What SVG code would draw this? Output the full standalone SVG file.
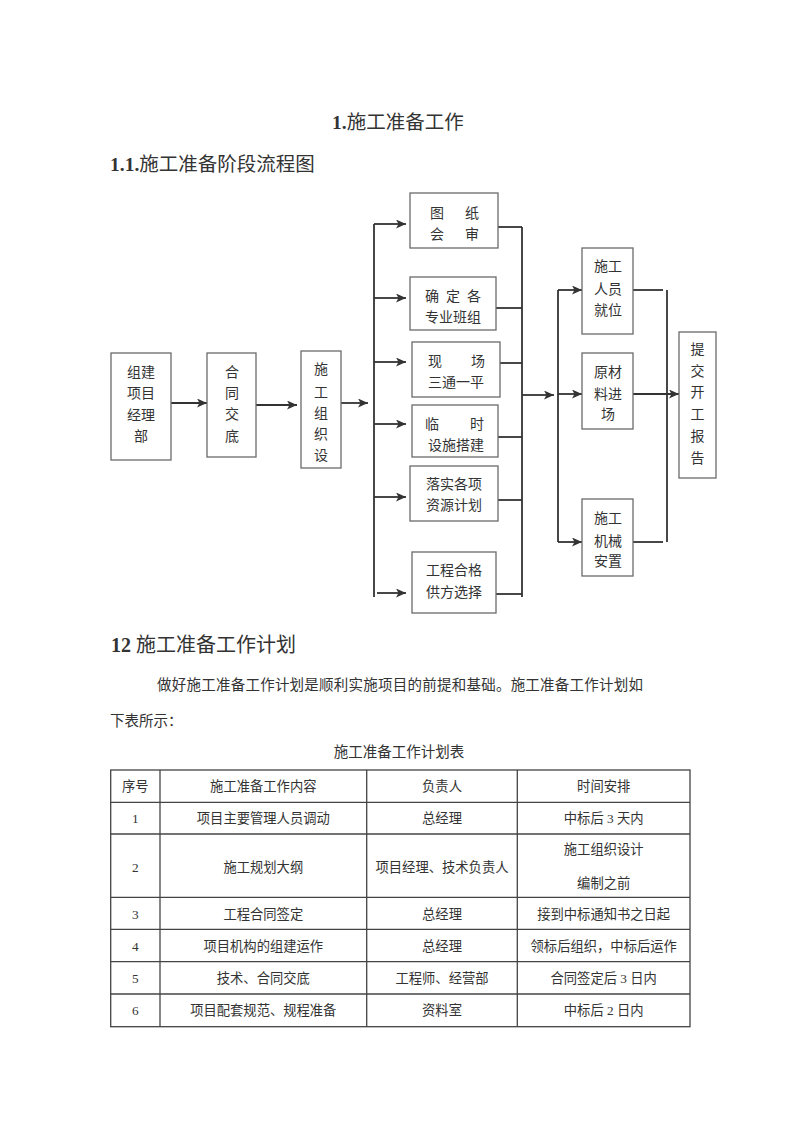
<svg xmlns="http://www.w3.org/2000/svg" width="800" height="1132" viewBox="0 0 800 1132">
<style>
.t{font-family:"Liberation Serif","Noto Sans CJK SC",serif;fill:#333}
.n{font-size:14px;text-anchor:middle}
.box{fill:#fff;stroke:#6a6a6a;stroke-width:1.3}
.c{stroke:#333;stroke-width:1.8;fill:none}
.ca{marker-end:url(#arr)}
.tb{stroke:#444;stroke-width:1.3;fill:none}
.tc{font-size:13.3px;text-anchor:middle}
.b{font-weight:bold}
</style>
<defs>
<marker id="arr" markerUnits="userSpaceOnUse" markerWidth="11" markerHeight="9" refX="10" refY="4.5" orient="auto">
<path d="M0,0 L10,4.5 L0,9 L2.5,4.5 z" fill="#333"/>
</marker>
</defs>
<rect width="800" height="1132" fill="#fff"/>

<g id="headings">
<text class="t" x="332" y="129" font-size="19.5px"><tspan class="b">1.</tspan>施工准备工作</text>
<text class="t" x="110" y="171" font-size="19.5px"><tspan class="b">1.1.</tspan>施工准备阶段流程图</text>
<text class="t" x="111" y="652" font-size="20px"><tspan class="b">12 </tspan>施工准备工作计划</text>
<text class="t" x="157" y="690" font-size="14.5px" textLength="486" lengthAdjust="spacing">做好施工准备工作计划是顺利实施项目的前提和基础。施工准备工作计划如</text>
<text class="t" x="110" y="726" font-size="14.5px">下表所示：</text>
<text class="t" x="399" y="757" font-size="14.5px" text-anchor="middle">施工准备工作计划表</text>
</g>

<g id="connectors">
<line class="c ca" x1="171" y1="403" x2="207" y2="403"/>
<line class="c ca" x1="256" y1="405" x2="297" y2="405"/>
<line class="c ca" x1="341" y1="403" x2="368" y2="403"/>
<line class="c" x1="374" y1="224" x2="374" y2="597"/>
<line class="c ca" x1="374" y1="224" x2="406" y2="224"/>
<line class="c ca" x1="374" y1="298" x2="406" y2="298"/>
<line class="c ca" x1="374" y1="362" x2="406" y2="362"/>
<line class="c ca" x1="374" y1="424" x2="406" y2="424"/>
<line class="c ca" x1="374" y1="497" x2="406" y2="497"/>
<line class="c ca" x1="377" y1="593" x2="406" y2="593"/>
<line class="c" x1="498" y1="227" x2="522" y2="227"/>
<line class="c" x1="496" y1="308" x2="522" y2="308"/>
<line class="c" x1="498" y1="363" x2="522" y2="363"/>
<line class="c" x1="498" y1="437" x2="522" y2="437"/>
<line class="c" x1="498" y1="500" x2="522" y2="500"/>
<line class="c" x1="496" y1="594" x2="522" y2="594"/>
<line class="c" x1="522" y1="227" x2="522" y2="597"/>
<line class="c ca" x1="522" y1="395" x2="554" y2="395"/>
<line class="c" x1="558" y1="290" x2="558" y2="542"/>
<line class="c ca" x1="558" y1="290" x2="582" y2="290"/>
<line class="c ca" x1="558" y1="394" x2="582" y2="394"/>
<line class="c ca" x1="558" y1="542" x2="582" y2="542"/>
<line class="c" x1="631" y1="290" x2="663" y2="290"/>
<line class="c" x1="631" y1="542" x2="663" y2="542"/>
<line class="c" x1="667" y1="290" x2="667" y2="542"/>
<line class="c ca" x1="631" y1="394" x2="679" y2="394"/>
</g>

<g id="n1">
<rect class="box" x="111" y="353" width="60" height="107" stroke="#444" stroke-width="2"/>
<text class="t n" x="141" y="377">组建</text>
<text class="t n" x="141" y="398">项目</text>
<text class="t n" x="141" y="420">经理</text>
<text class="t n" x="141" y="441">部</text>
</g>
<g id="n2">
<rect class="box" x="207" y="353" width="49" height="104"/>
<text class="t n" x="232" y="377">合</text>
<text class="t n" x="232" y="398">同</text>
<text class="t n" x="232" y="419">交</text>
<text class="t n" x="232" y="441">底</text>
</g>
<g id="n3">
<rect class="box" x="301" y="351" width="40" height="117"/>
<text class="t n" x="321" y="374">施</text>
<text class="t n" x="321" y="397">工</text>
<text class="t n" x="321" y="418">组</text>
<text class="t n" x="321" y="439">织</text>
<text class="t n" x="321" y="460">设</text>
</g>
<g id="nA">
<rect class="box" x="410" y="193" width="88" height="55"/>
<text class="t n" x="437 472" y="218">图纸</text>
<text class="t n" x="437 472" y="239">会审</text>
</g>
<g id="nB">
<rect class="box" x="410" y="277" width="86" height="53"/>
<text class="t n" x="432 453 474" y="301">确定各</text>
<text class="t n" x="453" y="322">专业班组</text>
</g>
<g id="nC">
<rect class="box" x="412" y="342" width="88" height="55"/>
<text class="t n" x="435 478" y="366">现场</text>
<text class="t n" x="456" y="387">三通一平</text>
</g>
<g id="nD">
<rect class="box" x="412" y="405" width="86" height="52"/>
<text class="t n" x="432 477" y="429">临时</text>
<text class="t n" x="456" y="450">设施搭建</text>
</g>
<g id="nE">
<rect class="box" x="410" y="466" width="88" height="55"/>
<text class="t n" x="454" y="489">落实各项</text>
<text class="t n" x="454" y="510">资源计划</text>
</g>
<g id="nF">
<rect class="box" x="412" y="552" width="84" height="61"/>
<text class="t n" x="454" y="575">工程合格</text>
<text class="t n" x="454" y="597">供方选择</text>
</g>
<g id="nG">
<rect class="box" x="582" y="248" width="51" height="86"/>
<text class="t n" x="608" y="271">施工</text>
<text class="t n" x="608" y="294">人员</text>
<text class="t n" x="608" y="315">就位</text>
</g>
<g id="nH">
<rect class="box" x="582" y="353" width="51" height="76"/>
<text class="t n" x="608" y="377">原材</text>
<text class="t n" x="608" y="399">料进</text>
<text class="t n" x="608" y="419">场</text>
</g>
<g id="nI">
<rect class="box" x="582" y="499" width="51" height="77"/>
<text class="t n" x="608" y="523">施工</text>
<text class="t n" x="608" y="546">机械</text>
<text class="t n" x="608" y="566">安置</text>
</g>
<g id="nJ">
<rect class="box" x="679" y="332" width="37" height="146"/>
<text class="t n" x="697.5" y="354">提</text>
<text class="t n" x="697.5" y="376">交</text>
<text class="t n" x="697.5" y="397">开</text>
<text class="t n" x="697.5" y="419">工</text>
<text class="t n" x="697.5" y="441">报</text>
<text class="t n" x="697.5" y="463">告</text>
</g>

<g id="table">
<rect class="tb" x="110.7" y="770" width="579.3" height="256.7"/>
<line class="tb" x1="160" y1="770" x2="160" y2="1026.7"/>
<line class="tb" x1="366.7" y1="770" x2="366.7" y2="1026.7"/>
<line class="tb" x1="517.3" y1="770" x2="517.3" y2="1026.7"/>
<line class="tb" x1="110.7" y1="802.3" x2="690" y2="802.3"/>
<line class="tb" x1="110.7" y1="834" x2="690" y2="834"/>
<line class="tb" x1="110.7" y1="897.3" x2="690" y2="897.3"/>
<line class="tb" x1="110.7" y1="929.3" x2="690" y2="929.3"/>
<line class="tb" x1="110.7" y1="961.7" x2="690" y2="961.7"/>
<line class="tb" x1="110.7" y1="994" x2="690" y2="994"/>
<text class="t tc" x="135.3" y="791">序号</text>
<text class="t tc" x="263.3" y="791">施工准备工作内容</text>
<text class="t tc" x="442" y="791">负责人</text>
<text class="t tc" x="603.7" y="791">时间安排</text>
<text class="t tc" x="135.3" y="823">1</text>
<text class="t tc" x="263.3" y="823">项目主要管理人员调动</text>
<text class="t tc" x="442" y="823">总经理</text>
<text class="t tc" x="603.7" y="823">中标后 3 天内</text>
<text class="t tc" x="135.3" y="871.5">2</text>
<text class="t tc" x="263.3" y="871.5">施工规划大纲</text>
<text class="t tc" x="442" y="871.5">项目经理、技术负责人</text>
<text class="t tc" x="603.7" y="854">施工组织设计</text>
<text class="t tc" x="603.7" y="888">编制之前</text>
<text class="t tc" x="135.3" y="919">3</text>
<text class="t tc" x="263.3" y="919">工程合同签定</text>
<text class="t tc" x="442" y="919">总经理</text>
<text class="t tc" x="603.7" y="919">接到中标通知书之日起</text>
<text class="t tc" x="135.3" y="950.5">4</text>
<text class="t tc" x="263.3" y="950.5">项目机构的组建运作</text>
<text class="t tc" x="442" y="950.5">总经理</text>
<text class="t tc" x="603.7" y="950.5">领标后组织，中标后运作</text>
<text class="t tc" x="135.3" y="983">5</text>
<text class="t tc" x="263.3" y="983">技术、合同交底</text>
<text class="t tc" x="442" y="983">工程师、经营部</text>
<text class="t tc" x="603.7" y="983">合同签定后 3 日内</text>
<text class="t tc" x="135.3" y="1015">6</text>
<text class="t tc" x="263.3" y="1015">项目配套规范、规程准备</text>
<text class="t tc" x="442" y="1015">资料室</text>
<text class="t tc" x="603.7" y="1015">中标后 2 日内</text>
</g>
</svg>
